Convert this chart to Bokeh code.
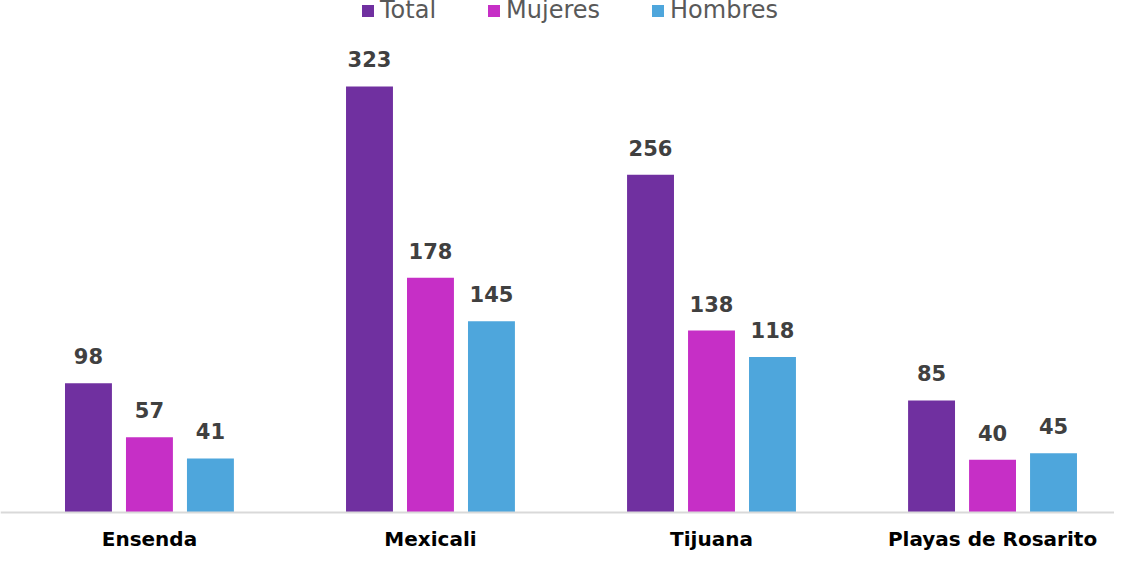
from bokeh.plotting import figure
from bokeh.models import Range1d, Legend, LegendItem, ColumnDataSource, LabelSet, Span
from bokeh.core.properties import value
from bokeh.embed import file_html
from bokeh.resources import INLINE

municipios = ["Ensenda", "Mexicali", "Tijuana", "Playas de Rosarito"]
series = ["Total", "Mujeres", "Hombres"]
total = [98, 323, 256, 85]
mujeres = [57, 178, 138, 40]
hombres = [41, 145, 118, 45]
colors = ["#7030A0", "#C62FC6", "#4EA6DC"]

FONT = "DejaVu Sans"

p = figure(width=1114, height=552, output_backend="svg", toolbar_location=None,
           x_axis_location=None, y_axis_location=None,
           x_range=Range1d(-0.53, 3.434), y_range=Range1d(-30.3, 388.2),
           min_border_top=0, min_border_left=0, min_border_right=0, min_border_bottom=0)
p.outline_line_color = None
p.grid.grid_line_color = None
p.background_fill_color = "white"
p.border_fill_color = "white"

# baseline (category axis line)
p.add_layout(Span(location=0, dimension="width", line_color="#D9D9D9", line_width=2))

offsets = [-0.217, 0.0, 0.217]
renderers = []
for vals, off, col in zip([total, mujeres, hombres], offsets, colors):
    xs = [i + off for i in range(len(municipios))]
    src = ColumnDataSource(dict(x=xs, top=vals, lab=[str(v) for v in vals]))
    r = p.vbar(x="x", top="top", width=0.167, bottom=0, source=src,
               fill_color=col, line_color=None)
    renderers.append(r)
    labels = LabelSet(x="x", y="top", text="lab", source=src, text_align="center",
                      text_baseline="bottom", y_offset=19, text_font=value(FONT),
                      text_font_size="21px", text_font_style="bold", text_color="#404040")
    p.add_layout(labels)

# category labels
cat_src = ColumnDataSource(dict(x=list(range(len(municipios))), y=[0] * len(municipios), name=municipios))
p.add_layout(LabelSet(x="x", y="y", text="name", source=cat_src, text_align="center",
                      text_baseline="alphabetic", y_offset=-33, text_font=value(FONT),
                      text_font_size="20px", text_font_style="bold", text_color="#000000"))

legend = Legend(items=[LegendItem(label=s, renderers=[r]) for s, r in zip(series, renderers)],
                location=(360, 528), orientation="horizontal")
legend.border_line_color = None
legend.background_fill_alpha = 0
legend.glyph_width = 15
legend.glyph_height = 15
legend.label_text_font = FONT
legend.label_text_font_size = "24px"
legend.label_text_color = "#595959"
legend.spacing = 50
legend.label_standoff = 5
legend.margin = 0
legend.padding = 0
p.add_layout(legend)

open("out.html", "w").write(file_html(p, INLINE))
